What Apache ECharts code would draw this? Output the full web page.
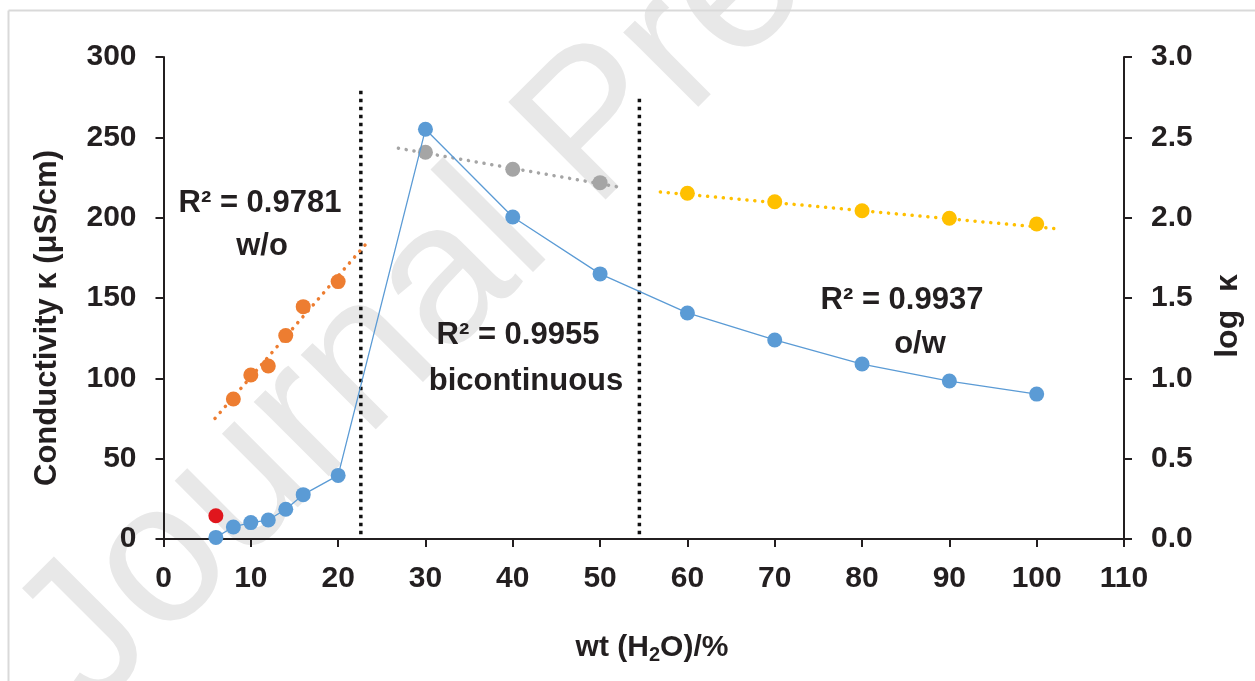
<!DOCTYPE html>
<html>
<head>
<meta charset="utf-8">
<script src="https://cdn.jsdelivr.net/npm/echarts@6/dist/echarts.min.js"></script>
<style>
html, body { margin: 0; padding: 0; background: #fff; }
#main { width: 1255px; height: 681px; }
</style>
</head>
<body>
<div id="main"></div>
<script>
// conductivity (left axis)
var kappaX = [6, 8, 10, 12, 14, 16, 20, 30, 40, 50, 60, 70, 80, 90, 100];
var kappaY = [1.0, 7.5, 10.2, 11.8, 18.5, 27.6, 39.6, 255, 200.4, 165, 140.7, 123.9, 108.9, 98.3, 90.2];
var redPoint = [[6, 14.5]];

// log kappa (right axis)
var woX = [8, 10, 12, 14, 16, 20];
var woY = [0.871, 1.021, 1.077, 1.266, 1.446, 1.602];
var biX = [30, 40, 50];
var biY = [2.407, 2.301, 2.218];
var owX = [60, 70, 80, 90, 100];
var owY = [2.152, 2.099, 2.043, 1.996, 1.961];

// trendline ends
var woTrend = [[5.9, 0.751], [23.4, 1.850]];
var biTrend = [[26.9, 2.432], [52.3, 2.189]];
var owTrend = [[56.9, 2.160], [102.7, 1.929]];

// region boundaries
var border1 = [[22.6, 3], [22.6, 281]];
var border2 = [[54.5, 3], [54.5, 275]];

var xTicks = [0, 110, 10];
var leftTicks = [0, 300, 50];
var rightTicks = [0, 3, 0.5];

function pairs(xs, ys) {
    return xs.map(function (x, i) { return [x, ys[i]]; });
}

var font = 'Liberation Sans, Arial, sans-serif';
var ink = '#231f20';
var axisStyle = {
    axisLine: { show: true, lineStyle: { color: ink, width: 2 } },
    axisTick: { show: true, inside: false, length: 8, lineStyle: { color: ink, width: 2 } },
    splitLine: { show: false }
};
var tickFont = { color: ink, fontSize: 30, fontWeight: 'bold', fontFamily: font };

function label(txt, x, y) {
    return {
        type: 'text', x: x, y: y,
        style: { text: txt, fill: ink, font: 'bold 31px ' + font, align: 'center', verticalAlign: 'middle' }
    };
}

var myChart = echarts.init(document.getElementById('main'));
var option = {
    backgroundColor: '#fff',
    animation: false,
    grid: { left: 163.5, right: 131, top: 57, bottom: 142 },
    xAxis: Object.assign({
        type: 'value',
        min: xTicks[0], max: xTicks[1], interval: xTicks[2],
        axisLabel: Object.assign({ margin: 25 }, tickFont)
    }, axisStyle),
    yAxis: [
        Object.assign({
            type: 'value',
            min: leftTicks[0], max: leftTicks[1], interval: leftTicks[2],
            axisLabel: Object.assign({ margin: 27 }, tickFont)
        }, axisStyle),
        Object.assign({
            type: 'value',
            position: 'right',
            min: rightTicks[0], max: rightTicks[1], interval: rightTicks[2],
            axisLabel: Object.assign({
                margin: 27,
                formatter: function (v) { return v.toFixed(1); }
            }, tickFont)
        }, axisStyle)
    ],
    graphic: [
        // watermark
        {
            type: 'text', z: -10, silent: true,
            x: 52, y: 675, rotation: Math.PI / 4,
            style: { text: 'Journal Pre-proof', fill: '#e8e8e8', font: '200px "Liberation Sans", Arial, sans-serif', verticalAlign: 'middle' }
        },
        { type: 'line', z: -5, shape: { x1: 8.5, y1: 10.5, x2: 8.5, y2: 681 }, style: { stroke: '#d9d9d9', lineWidth: 2 } },
        { type: 'line', z: -5, shape: { x1: 8.5, y1: 10.5, x2: 1255, y2: 10.5 }, style: { stroke: '#d9d9d9', lineWidth: 2 } },
        // axis titles
        {
            type: 'text', x: 47, y: 318, rotation: Math.PI / 2,
            style: { text: 'Conductivity κ (μS/cm)', fill: ink, font: 'bold 31px ' + font, align: 'center', verticalAlign: 'middle' }
        },
        {
            type: 'text', x: 1228, y: 316, rotation: Math.PI / 2,
            style: { text: 'log  κ', fill: ink, font: 'bold 32px ' + font, align: 'center', verticalAlign: 'middle' }
        },
        {
            type: 'text', x: 652, y: 648,
            style: {
                text: '{a|wt (H}{s|2}{a|O)/%}', align: 'center', verticalAlign: 'middle',
                rich: {
                    a: { fontSize: 30, fontWeight: 'bold', fontFamily: font, fill: ink, lineHeight: 34 },
                    s: { fontSize: 20, fontWeight: 'bold', fontFamily: font, fill: ink, lineHeight: 34, padding: [14, 0, 0, 0] }
                }
            }
        },
        // region annotations
        label('R² = 0.9781', 260, 203),
        label('w/o', 262, 246),
        label('R² = 0.9955', 518, 335),
        label('bicontinuous', 526, 381),
        label('R² = 0.9937', 902, 300),
        label('o/w', 920, 344)
    ],
    series: [
        {
            type: 'line', yAxisIndex: 0, data: border1, symbol: 'none', z: 1,
            lineStyle: { color: '#111', width: 3.5, type: [3.5, 4.5] }
        },
        {
            type: 'line', yAxisIndex: 0, data: border2, symbol: 'none', z: 1,
            lineStyle: { color: '#111', width: 3.5, type: [3.5, 4.5] }
        },
        {
            type: 'line', yAxisIndex: 1, data: woTrend, symbol: 'none', z: 2,
            lineStyle: { color: '#ed7d31', width: 3.5, type: [0.1, 7.8], cap: 'round' }
        },
        {
            type: 'line', yAxisIndex: 1, data: biTrend, symbol: 'none', z: 2,
            lineStyle: { color: '#a5a5a5', width: 3.5, type: [0.1, 7.8], cap: 'round' }
        },
        {
            type: 'line', yAxisIndex: 1, data: owTrend, symbol: 'none', z: 2,
            lineStyle: { color: '#ffc000', width: 3.5, type: [0.1, 7.8], cap: 'round' }
        },
        {
            type: 'scatter', yAxisIndex: 1, data: pairs(woX, woY), symbolSize: 15, z: 3,
            itemStyle: { color: '#ed7d31', opacity: 1 }
        },
        {
            type: 'scatter', yAxisIndex: 1, data: pairs(biX, biY), symbolSize: 15, z: 3,
            itemStyle: { color: '#a5a5a5', opacity: 1 }
        },
        {
            type: 'scatter', yAxisIndex: 1, data: pairs(owX, owY), symbolSize: 15, z: 3,
            itemStyle: { color: '#ffc000', opacity: 1 }
        },
        {
            type: 'scatter', yAxisIndex: 0, data: redPoint, symbolSize: 15, z: 3,
            itemStyle: { color: '#e0161d', opacity: 1 }
        },
        {
            type: 'line', yAxisIndex: 0, data: pairs(kappaX, kappaY), z: 4,
            symbol: 'circle', symbolSize: 15, showSymbol: true,
            lineStyle: { color: '#5b9bd5', width: 1.3 },
            itemStyle: { color: '#5b9bd5', borderWidth: 0 }
        }
    ]
};
myChart.setOption(option);

window.addEventListener('resize', function () {
    myChart.resize();
});
</script>
</body>
</html>
